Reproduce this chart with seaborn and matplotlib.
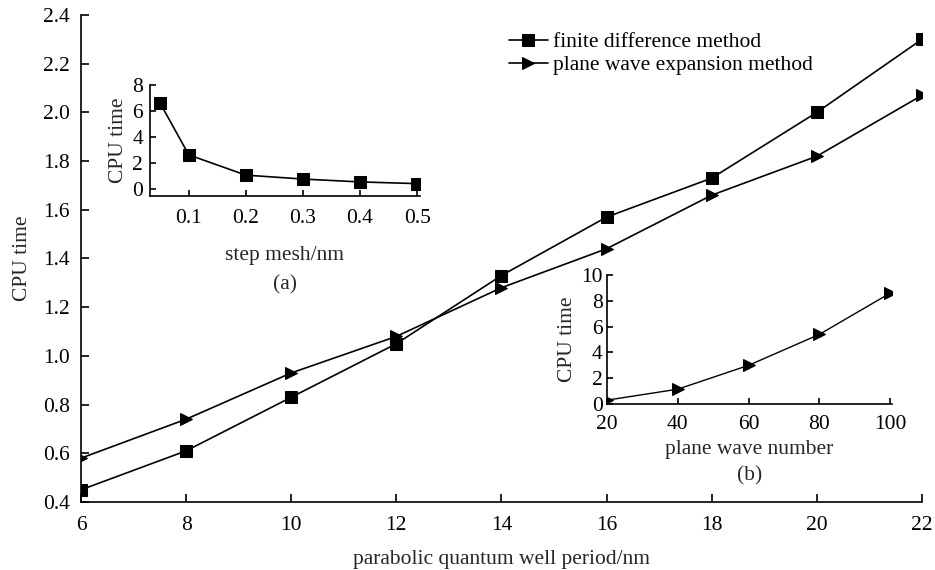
import matplotlib
matplotlib.use("Agg")
import matplotlib.pyplot as plt
import seaborn as sns
import pandas as pd

# main chart data
period = [6, 8, 10, 12, 14, 16, 18, 20, 22]
fdm_time = [0.45, 0.61, 0.83, 1.05, 1.33, 1.57, 1.73, 2.00, 2.30]
pwe_time = [0.58, 0.74, 0.93, 1.08, 1.28, 1.44, 1.66, 1.82, 2.07]
main_yticks = [0.4, 0.6, 0.8, 1.0, 1.2, 1.4, 1.6, 1.8, 2.0, 2.2, 2.4]
main_xticks = [6, 8, 10, 12, 14, 16, 18, 20, 22]

# inset (a)
step_mesh = [0.05, 0.1, 0.2, 0.3, 0.4, 0.5]
step_time = [6.6, 2.65, 1.1, 0.8, 0.58, 0.45]
a_xticks = [0.1, 0.2, 0.3, 0.4, 0.5]
a_yticks = [0, 2, 4, 6, 8]

# inset (b)
wave_number = [20, 40, 60, 80, 100]
wave_time = [0.3, 1.15, 3.0, 5.4, 8.6]
b_xticks = [20, 40, 60, 80, 100]
b_yticks = [0, 2, 4, 6, 8, 10]

sns.set_theme(style="ticks")
plt.rcParams["font.family"] = ["Liberation Serif", "DejaVu Serif"]
plt.rcParams["xtick.direction"] = "in"
plt.rcParams["ytick.direction"] = "in"
plt.rcParams["axes.edgecolor"] = "black"
plt.rcParams["axes.linewidth"] = 1.2
plt.rcParams["xtick.major.width"] = 1.2
plt.rcParams["ytick.major.width"] = 1.2
plt.rcParams["xtick.color"] = "black"
plt.rcParams["ytick.color"] = "black"
plt.rcParams["text.color"] = "black"

fs = 15.5

fig = plt.figure(figsize=(9.35, 5.7), dpi=100)
ax = fig.add_axes([0.0866, 0.1193, 0.8994, 0.8544])

df = pd.DataFrame({"period": period, "fdm": fdm_time, "pwe": pwe_time})
sns.lineplot(data=df, x="period", y="fdm", ax=ax, color="black", marker="s",
             markersize=8, markeredgecolor="black", linewidth=1.2,
             label="finite difference method")
sns.lineplot(data=df, x="period", y="pwe", ax=ax, color="black", marker=">",
             markersize=9, markeredgecolor="black", linewidth=1.2,
             label="plane wave expansion method")
ax.set_xlim(6, 22)
ax.set_ylim(0.4, 2.4)
ax.set_xticks(main_xticks)
ax.set_yticks(main_yticks)
ax.set_yticklabels([f"{v:.1f}" for v in main_yticks], fontsize=fs)
ax.set_xticklabels([str(v) for v in main_xticks], fontsize=fs)
ax.tick_params(axis="both", length=6, pad=8)
ax.tick_params(axis="x", pad=10)
ax.set_xlabel("parabolic quantum well period/nm", fontsize=fs, labelpad=11)
ax.set_ylabel("CPU time", fontsize=fs, labelpad=8)
sns.despine(ax=ax)
leg = ax.legend(loc="upper left", bbox_to_anchor=(0.509, 0.965), frameon=False,
                fontsize=fs, handlelength=1.8, handletextpad=0.25,
                labelspacing=0.15, borderaxespad=0.0, borderpad=0.0)

# inset (a)
axa = fig.add_axes([0.1604, 0.6561, 0.2888, 0.1947])
dfa = pd.DataFrame({"mesh": step_mesh, "t": step_time})
sns.lineplot(data=dfa, x="mesh", y="t", ax=axa, color="black", marker="s",
             markersize=8, markeredgecolor="black", linewidth=1.2)
axa.set_xlim(0.032, 0.505)
axa.set_ylim(-0.5, 8)
axa.set_xticks(a_xticks)
axa.set_yticks(a_yticks)
axa.set_xticklabels([f"{v:.1f}" for v in a_xticks], fontsize=fs)
axa.set_yticklabels([str(v) for v in a_yticks], fontsize=fs)
axa.tick_params(axis="both", length=4, pad=5)
axa.tick_params(axis="x", pad=9)
axa.set_xlabel("step mesh/nm\n(a)", fontsize=fs, labelpad=13, linespacing=1.75)
axa.set_ylabel("CPU time", fontsize=fs, labelpad=3)
axa.patch.set_alpha(0)
sns.despine(ax=axa)

# inset (b)
axb = fig.add_axes([0.6492, 0.2912, 0.3048, 0.2263])
dfb = pd.DataFrame({"n": wave_number, "t": wave_time})
sns.lineplot(data=dfb, x="n", y="t", ax=axb, color="black", marker=">",
             markersize=8, markeredgecolor="black", linewidth=1.0)
axb.set_xlim(20, 100.5)
axb.set_ylim(0, 10)
axb.set_xticks(b_xticks)
axb.set_yticks(b_yticks)
axb.set_xticklabels([str(v) for v in b_xticks], fontsize=fs)
axb.set_yticklabels([str(v) for v in b_yticks], fontsize=fs)
axb.tick_params(axis="both", length=4, pad=3)
axb.tick_params(axis="x", pad=8)
axb.set_xlabel("plane wave number\n(b)", fontsize=fs, labelpad=4, linespacing=1.5)
axb.set_ylabel("CPU time", fontsize=fs, labelpad=3)
axb.patch.set_alpha(0)
sns.despine(ax=axb)

fig.savefig("out.png", dpi=100)
